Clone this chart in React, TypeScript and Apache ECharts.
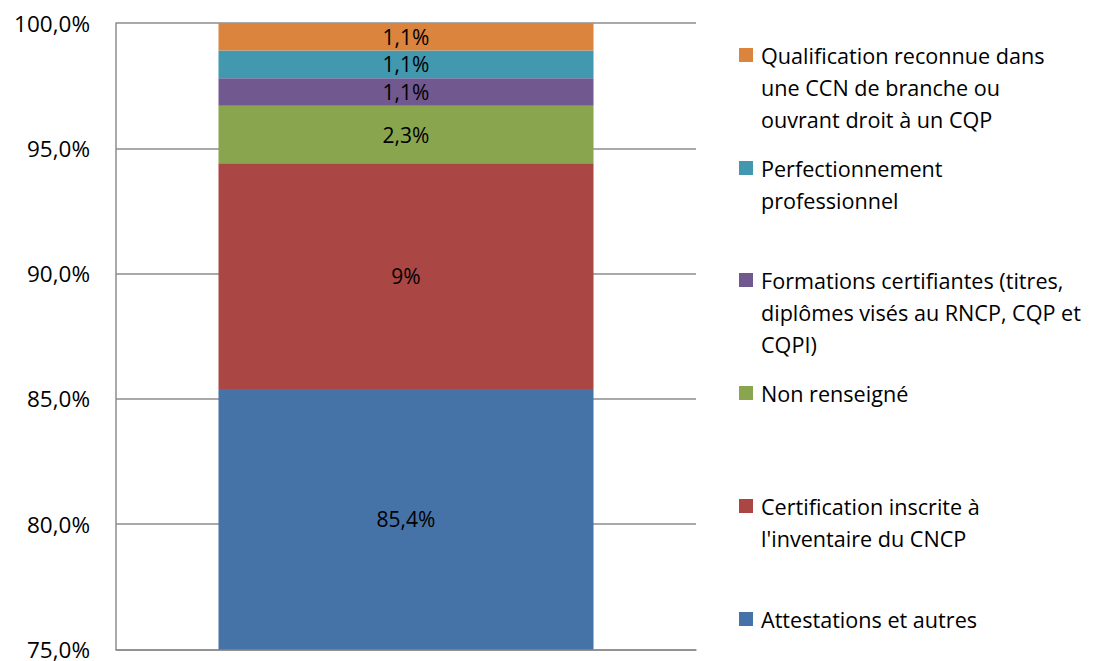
import React, { useEffect, useRef } from "react";
import * as echarts from "echarts";

const categories = ["Total"];
const seriesNames = [
  "Attestations et autres",
  "Certification inscrite à\nl'inventaire du CNCP",
  "Non renseigné",
  "Formations certifiantes (titres,\ndiplômes visés au RNCP, CQP et\nCQPI)",
  "Perfectionnement\nprofessionnel",
  "Qualification reconnue dans\nune CCN de branche ou\nouvrant droit à un CQP",
];
const seriesValues = [85.4, 9, 2.3, 1.1, 1.1, 1.1];
const seriesColors = ["#4572A7", "#AA4643", "#89A54E", "#71588F", "#4198AF", "#DB843D"];
const yTicks = { min: 75, max: 100, interval: 5 };

// legend layout (first-line centre y for each series, same order as series)
const legendY = [619, 506, 393, 280, 168, 55];

const FONT = "'Open Sans', sans-serif";

function fmtPct(v: number): string {
  return Number.isInteger(v) ? `${v}%` : `${v.toFixed(1).replace(".", ",")}%`;
}

export default function App() {
  const ref = useRef<HTMLDivElement>(null);
  useEffect(() => {
    if (!ref.current) return;
    const chart = echarts.init(ref.current, undefined, { renderer: "svg" });
    const graphic: any[] = [];
    seriesNames.forEach((name, i) => {
      graphic.push({
        type: "rect",
        shape: { x: 739, y: legendY[i] - 7, width: 14, height: 14 },
        style: { fill: seriesColors[i] },
      });
      graphic.push({
        type: "text",
        x: 761,
        y: legendY[i] - 16,
        style: {
          text: name,
          font: `21.6px ${FONT}`,
          fill: "#000",
          lineHeight: 32,
          textVerticalAlign: "top",
        },
      });
    });
    chart.setOption({
      animation: false,
      grid: { left: 116, right: 411, top: 23, bottom: 9, containLabel: false },
      xAxis: {
        type: "category",
        data: categories,
        axisLine: { show: true, lineStyle: { color: "#8c8c8c", width: 1.5 } },
        axisTick: { show: false },
        axisLabel: { show: false },
      },
      yAxis: {
        type: "value",
        min: yTicks.min,
        max: yTicks.max,
        interval: yTicks.interval,
        axisLine: { show: true, lineStyle: { color: "#8c8c8c", width: 1.5 } },
        axisTick: { show: false },
        splitLine: { lineStyle: { color: "#8c8c8c", width: 1.5 } },
        axisLabel: {
          formatter: (v: number) => v.toFixed(1).replace(".", ",") + "%",
          color: "#000",
          fontSize: 22.5,
          fontFamily: FONT,
          margin: 26,
        },
      },
      series: seriesNames.map((name, i) => ({
        type: "bar",
        name,
        stack: "total",
        data: [seriesValues[i]],
        barWidth: 375,
        itemStyle: { color: seriesColors[i] },
        label: {
          show: true,
          position: "inside",
          formatter: (p: any) => fmtPct(p.value),
          color: "#000",
          fontSize: 21,
          fontFamily: FONT,
        },
      })),
      graphic,
    });
    return () => chart.dispose();
  }, []);
  return <div ref={ref} style={{ width: 1107, height: 661, position: "absolute", left: 0, top: 0 }} />;
}
